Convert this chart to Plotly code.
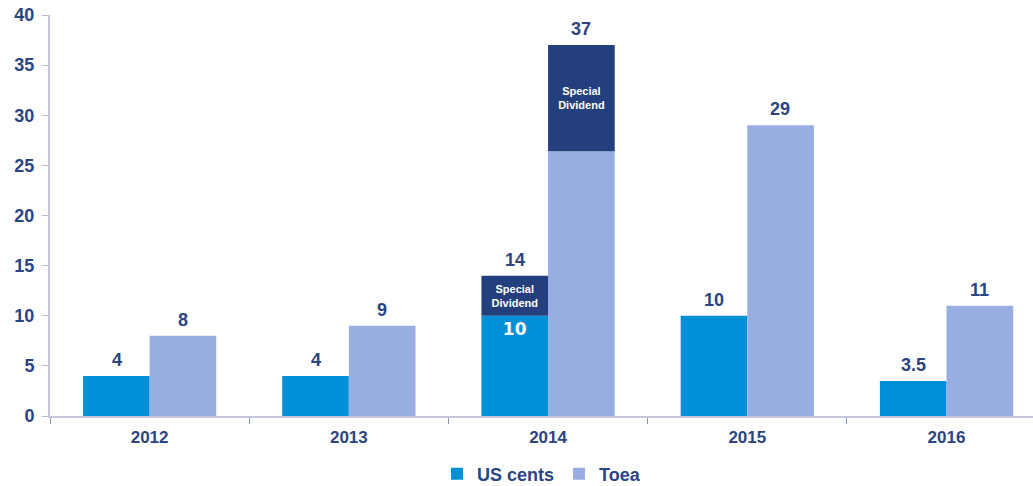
import plotly.graph_objects as go

years = ["2012", "2013", "2014", "2015", "2016"]
us_base = [4, 4, 10, 10, 3.5]
us_special = [0, 0, 4, 0, 0]
toea_base = [8, 9, 26.4, 29, 11]
toea_special = [0, 0, 10.6, 0, 0]
us_labels = ["4", "4", "14", "10", "3.5"]
toea_labels = ["8", "9", "37", "29", "11"]
us_inside = ["", "", "10", "", ""]
special_text = ["", "", "Special<br>Dividend", "", ""]

NAVY = "#2B4482"
US_COL = "#0090D8"
TOEA_COL = "#98AEE2"
SPECIAL_COL = "#233F7E"
FONT = "Liberation Sans, Arial, sans-serif"

fig = go.Figure()
fig.add_trace(go.Bar(
    x=years, y=us_base, name="US cents", offsetgroup="us",
    marker=dict(color=US_COL, line=dict(width=0)),
    text=us_inside, textposition="inside", insidetextanchor="end",
    textfont=dict(color="white", size=17, family="DejaVu Sans", weight="bold"),
    hoverinfo="skip",
))
fig.add_trace(go.Bar(
    x=years, y=toea_base, name="Toea", offsetgroup="toea",
    marker=dict(color=TOEA_COL, line=dict(width=0)),
    hoverinfo="skip",
))
fig.add_trace(go.Bar(
    x=years, y=us_special, base=us_base, offsetgroup="us", showlegend=False,
    marker=dict(color=SPECIAL_COL, line=dict(width=0)),
    text=special_text, textposition="inside", insidetextanchor="middle",
    textfont=dict(color="white", size=11, family=FONT, weight="bold"),
    hoverinfo="skip",
))
fig.add_trace(go.Bar(
    x=years, y=toea_special, base=toea_base, offsetgroup="toea", showlegend=False,
    marker=dict(color=SPECIAL_COL, line=dict(width=0)),
    text=special_text, textposition="inside", insidetextanchor="middle",
    textfont=dict(color="white", size=11, family=FONT, weight="bold"),
    hoverinfo="skip",
))

for i, yr in enumerate(years):
    us_total = us_base[i] + us_special[i]
    toea_total = toea_base[i] + toea_special[i]
    fig.add_annotation(x=i, y=us_total, text=us_labels[i], xshift=-33,
                       yanchor="bottom", yshift=4, showarrow=False,
                       font=dict(size=18, color=NAVY, family=FONT, weight="bold"))
    fig.add_annotation(x=i, y=toea_total, text=toea_labels[i], xshift=33,
                       yanchor="bottom", yshift=4, showarrow=False,
                       font=dict(size=18, color=NAVY, family=FONT, weight="bold"))

fig.update_layout(
    width=1033, height=486,
    margin=dict(l=50, r=0, t=15, b=70, autoexpand=False),
    paper_bgcolor="white", plot_bgcolor="white",
    barmode="group", bargap=0.331, bargroupgap=0,
    uniformtext=dict(mode=False),
    font=dict(family=FONT, color=NAVY),
    showlegend=True,
    legend=dict(orientation="h", x=0.5, xanchor="center", y=-0.145, yanchor="middle",
                font=dict(size=18, color=NAVY, family=FONT, weight="bold"),
                itemsizing="constant", itemwidth=30, traceorder="normal"),
    xaxis=dict(type="category", range=[-0.5, 4.434], showline=True, linecolor="#C4C7D8", linewidth=2,
               ticks="outside", tickson="boundaries", ticklen=6, tickcolor="#8A94B0",
               tickfont=dict(size=17, color=NAVY, family=FONT, weight="bold"),
               ticklabelstandoff=5,
               showgrid=False, zeroline=False, automargin=False),
    yaxis=dict(range=[0, 40], dtick=5, showline=True, linecolor="#C4C7D8", linewidth=2,
               ticks="outside", ticklen=6, tickcolor="#B8BCCF",
               tickfont=dict(size=18, color=NAVY, family=FONT, weight="bold"),
               ticklabelstandoff=4,
               showgrid=False, zeroline=False, automargin=False),
)

fig.write_html("out.html", config={"displayModeBar": False},
               post_script="document.body.style.margin='0';")
